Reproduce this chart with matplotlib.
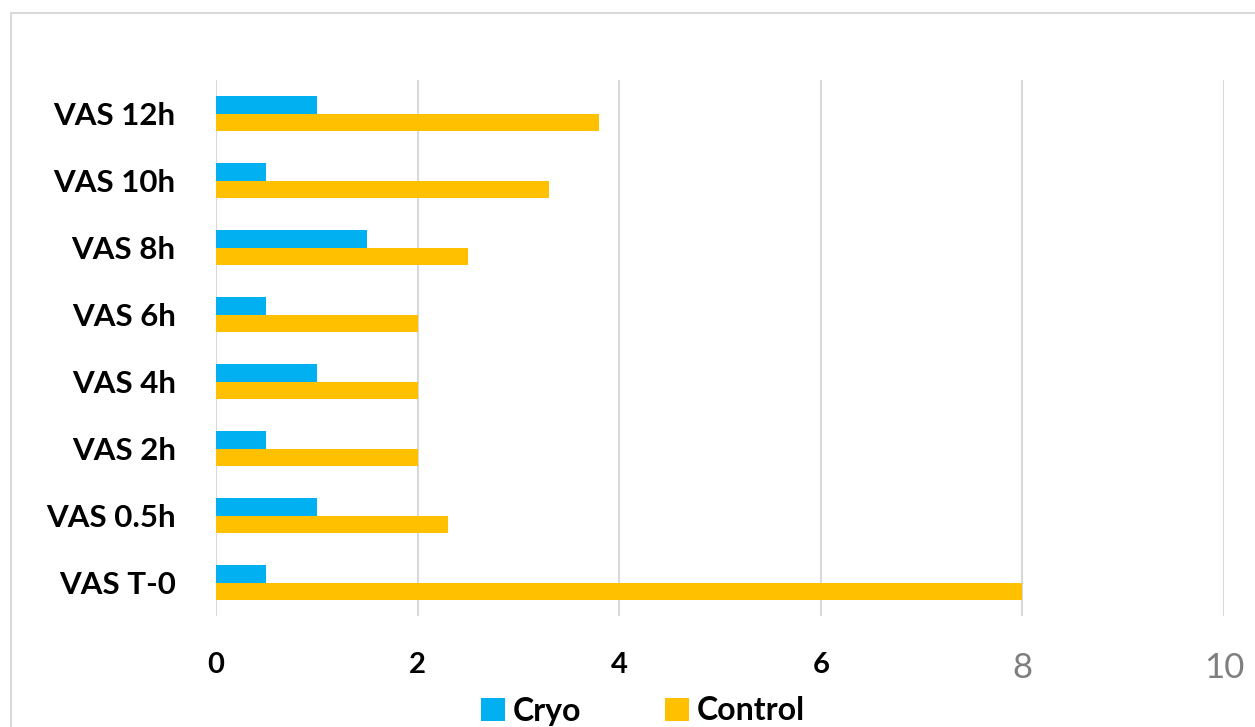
import matplotlib
matplotlib.use("Agg")
import matplotlib.pyplot as plt
from matplotlib.patches import Patch, Rectangle
import numpy as np

categories = ["VAS T-0", "VAS 0.5h", "VAS 2h", "VAS 4h", "VAS 6h", "VAS 8h", "VAS 10h", "VAS 12h"]
cryo = [0.5, 1.0, 0.5, 1.0, 0.5, 1.5, 0.5, 1.0]
control = [8.0, 2.3, 2.0, 2.0, 2.0, 2.5, 3.3, 3.8]
xticks = [0, 2, 4, 6, 8, 10]
series_names = ["Cryo", "Control"]

BLUE = "#00B0F0"
ORANGE = "#FFC000"
GRID = "#D9D9D9"

plt.rcParams['font.family'] = ['Lato', 'DejaVu Sans']

W, H = 1255, 727
fig = plt.figure(figsize=(W / 100, H / 100), dpi=100)
fig.patch.set_facecolor("white")

# outer chart border
fig.patches.append(Rectangle((11 / W, -0.1), 1.2, 1 - 12.5 / H + 0.1, transform=fig.transFigure,
                             fill=False, edgecolor=GRID, linewidth=1.5))

ax = fig.add_axes([216 / W, 1 - 616 / H, (1224 - 216) / W, (616 - 80) / H])
y = np.arange(len(categories))
h = 0.255
ax.barh(y + h / 2, cryo, height=h, color=BLUE, zorder=3)
ax.barh(y - h / 2, control, height=h, color=ORANGE, zorder=3)

ax.set_xlim(0, 10)
ax.set_ylim(-0.5, 7.5)
ax.set_xticks(xticks)
ax.set_xticklabels([str(t) for t in xticks])
for i, lab in enumerate(ax.get_xticklabels()):
    if xticks[i] >= 8:
        lab.set_color("#7F7F7F")
        lab.set_fontweight("normal")
        lab.set_fontsize(25)
    else:
        lab.set_color("black")
        lab.set_fontweight("bold")
        lab.set_fontsize(21)
ax.set_yticks(y)
ax.set_yticklabels(categories, fontsize=22.5, fontweight="bold", color="black")
ax.tick_params(axis="both", length=0)
ax.tick_params(axis="x", pad=26)
ax.tick_params(axis="y", pad=29)
ax.grid(axis="x", color=GRID, linewidth=1.5, zorder=0)
for s in ax.spines.values():
    s.set_visible(False)

handles = [Patch(facecolor=BLUE, edgecolor="none"), Patch(facecolor=ORANGE, edgecolor="none")]
fig.legend(handles, series_names, loc="center", bbox_to_anchor=(643 / W, 1 - 711 / H),
           ncol=2, frameon=False, handlelength=0.75, handleheight=0.75, handletextpad=0.25,
           columnspacing=2.6, borderpad=0,
           prop={"family": ["Lato", "DejaVu Sans"], "weight": "bold", "size": 23})

fig.savefig("out.png", dpi=100, facecolor="white")
